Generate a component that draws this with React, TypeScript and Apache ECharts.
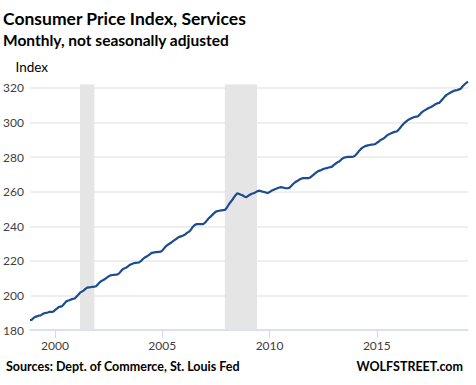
import React, { useEffect, useRef } from "react";
import * as echarts from "echarts";

// Monthly CPI Services index, NSA, starting Nov 1998
const startYear = 1998;
const startMonth = 11;
const cpiServices: number[] = [
  // 1998 Nov-Dec
  185.8, 185.9,
  // 1999
  187.0, 187.6, 188.0, 188.4, 188.5, 189.2, 189.7, 189.9, 190.1, 190.5, 190.5, 190.6,
  // 2000
  191.5, 192.3, 193.2, 193.5, 193.8, 195.0, 196.3, 196.9, 197.2, 197.7, 198.0, 198.2,
  // 2001
  199.3, 200.4, 201.6, 202.2, 202.8, 203.8, 204.5, 204.7, 204.8, 205.0, 205.1, 205.3,
  // 2002
  206.5, 207.6, 208.4, 208.9, 209.5, 210.3, 211.0, 211.6, 211.8, 211.9, 212.0, 212.2,
  // 2003
  212.9, 214.2, 215.3, 215.7, 216.2, 217.0, 217.8, 218.2, 218.6, 218.8, 218.9, 219.1,
  // 2004
  219.8, 220.9, 221.8, 222.4, 223.0, 223.8, 224.6, 224.8, 225.0, 225.1, 225.2, 225.3,
  // 2005
  225.9, 227.2, 228.4, 229.2, 229.9, 230.6, 231.4, 232.1, 232.8, 233.6, 234.0, 234.3,
  // 2006
  234.8, 235.5, 236.3, 236.9, 238.0, 239.6, 240.6, 241.2, 241.2, 241.2, 241.3, 241.3,
  // 2007
  242.2, 243.4, 244.6, 245.6, 246.6, 247.6, 248.5, 248.8, 249.0, 249.2, 249.3, 249.4,
  // 2008
  250.6, 252.3, 253.8, 255.0, 256.6, 258.0, 259.1, 258.7, 258.2, 257.9, 257.1, 256.9,
  // 2009
  257.6, 258.2, 258.8, 259.1, 259.6, 260.2, 260.6, 260.4, 260.0, 259.8, 259.5, 259.3,
  // 2010
  259.8, 260.5, 261.0, 261.4, 261.8, 262.3, 262.6, 262.5, 262.3, 262.0, 262.0, 262.2,
  // 2011
  263.2, 264.3, 265.2, 265.9, 266.5, 267.2, 267.7, 267.8, 267.8, 267.8, 267.9, 268.4,
  // 2012
  269.3, 270.2, 271.0, 271.8, 272.2, 272.6, 273.1, 273.4, 273.6, 274.0, 274.2, 274.5,
  // 2013
  275.5, 276.3, 277.0, 277.5, 278.5, 279.3, 279.8, 280.0, 280.1, 280.2, 280.1, 280.4,
  // 2014
  281.0, 282.2, 283.5, 284.6, 285.5, 286.1, 286.5, 286.8, 287.0, 287.2, 287.3, 287.5,
  // 2015
  288.3, 288.9, 289.8, 290.4, 290.9, 291.9, 292.8, 293.3, 293.8, 294.3, 294.6, 294.8,
  // 2016
  295.6, 296.8, 298.2, 299.3, 300.2, 301.1, 301.8, 302.3, 302.8, 303.2, 303.4, 303.6,
  // 2017
  304.6, 305.8, 306.6, 307.2, 307.8, 308.4, 308.8, 309.4, 310.1, 310.7, 311.2, 311.4,
  // 2018
  312.6, 313.8, 315.0, 316.0, 316.6, 317.2, 317.8, 318.3, 318.6, 318.8, 319.2, 319.6,
  // 2019 Jan-Apr
  321.0, 322.0, 322.9, 323.6,
];

// Recessions (fractional years): Mar-Nov 2001, Dec 2007-Jun 2009
const recessionStarts = [2001 + 2 / 12, 2007 + 11 / 12];
const recessionEnds = [2001 + 10 / 12, 2009 + 5 / 12];
const recessionTop = 322;

const xTickYears = [2000, 2005, 2010, 2015];
const yMin = 180;
const yMax = 326;
const yStep = 20;

const FONT = "Lato, 'Open Sans', sans-serif";

export default function App() {
  const ref = useRef<HTMLDivElement>(null);

  useEffect(() => {
    if (!ref.current) return;
    document.body.style.margin = "0";
    const chart = echarts.init(ref.current, undefined, { renderer: "svg" });

    const points = cpiServices.map((v, i) => {
      const m = startMonth - 1 + i;
      return [startYear + m / 12, v];
    });
    const xMin = startYear + (startMonth - 1) / 12;
    const xMax = points[points.length - 1][0];

    const recessionAreas = recessionStarts.map((s, i) => [
      { xAxis: s, yAxis: yMin },
      { xAxis: recessionEnds[i], yAxis: recessionTop },
    ]);

    chart.setOption({
      animation: false,
      backgroundColor: "#ffffff",
      grid: { left: 30, right: 8, top: 77.6, bottom: 55, containLabel: false },
      xAxis: {
        type: "value",
        min: xMin,
        max: xMax,
        splitLine: { show: false },
        axisLine: { show: true, lineStyle: { color: "#D6DCEE", width: 1.5 } },
        axisTick: {
          show: true,
          customValues: xTickYears,
          length: 8,
          lineStyle: { color: "#D6DCEE", width: 1.2 },
        },
        axisLabel: {
          customValues: xTickYears,
          color: "#404040",
          fontFamily: FONT,
          fontSize: 12,
          margin: 9,
          formatter: (v: number) => String(Math.round(v)),
        },
      },
      yAxis: {
        type: "value",
        min: yMin,
        max: yMax,
        interval: yStep,
        axisLine: { show: false },
        axisTick: { show: false },
        axisLabel: {
          color: "#404040",
          fontFamily: FONT,
          fontSize: 12,
          margin: 6,
          showMaxLabel: false,
          formatter: (v: number) => (v % yStep === 0 ? String(v) : ""),
        },
        splitLine: {
          show: true,
          showMaxLine: false,
          lineStyle: { color: "#EFEFEF", width: 2 },
        },
      },
      series: [
        {
          type: "line",
          data: points,
          showSymbol: false,
          symbol: "none",
          lineStyle: { color: "#1B4C8F", width: 2.2 },
          itemStyle: { color: "#1B4C8F" },
          z: 3,
          markArea: {
            silent: true,
            itemStyle: { color: "#E5E5E5" },
            label: { show: false },
            data: recessionAreas,
          },
        },
      ],
      graphic: [
        {
          type: "text",
          x: 3,
          y: 18,
          style: {
            text: "Consumer Price Index, Services",
            font: `bold 17.5px ${FONT}`,
            fill: "#000000",
            verticalAlign: "middle",
          },
        },
        {
          type: "text",
          x: 3,
          y: 39.5,
          style: {
            text: "Monthly, not seasonally adjusted",
            font: `bold 15.5px ${FONT}`,
            fill: "#000000",
            verticalAlign: "middle",
          },
        },
        {
          type: "text",
          x: 15.5,
          y: 67,
          style: {
            text: "Index",
            font: `13.5px ${FONT}`,
            fill: "#000000",
            verticalAlign: "middle",
          },
        },
        {
          type: "text",
          x: 6,
          y: 366,
          style: {
            text: "Sources: Dept. of Commerce, St. Louis Fed",
            font: `bold 12.5px ${FONT}`,
            fill: "#000000",
            verticalAlign: "middle",
          },
        },
        {
          type: "text",
          x: 463,
          y: 366,
          style: {
            text: "WOLFSTREET.com",
            font: `bold 12.5px ${FONT}`,
            fill: "#000000",
            align: "right",
            verticalAlign: "middle",
          },
        },
      ],
    });

    return () => chart.dispose();
  }, []);

  return <div ref={ref} style={{ width: 476, height: 385 }} />;
}
